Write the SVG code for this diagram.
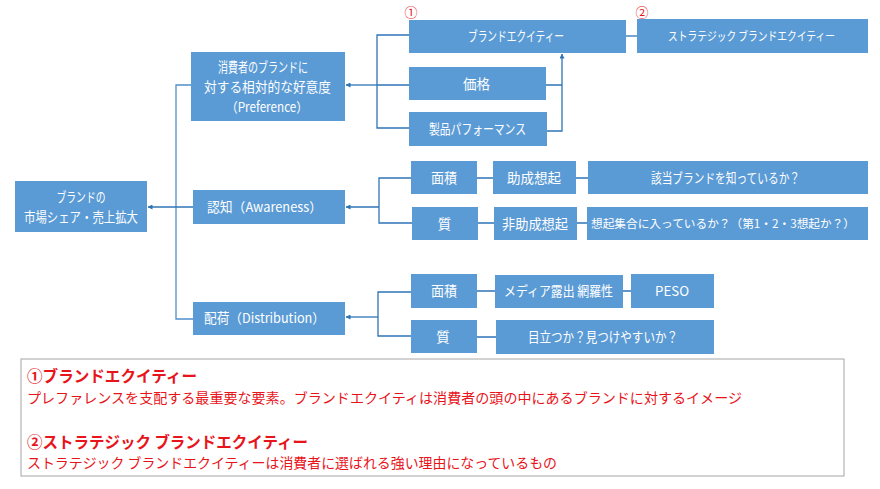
<svg xmlns="http://www.w3.org/2000/svg" width="880" height="489" viewBox="0 0 880 489">
<style>
.b{fill:#5B9BD5}
.t{font-family:"Meiryo UI","Noto Sans CJK JP","Noto Sans",sans-serif;font-size:13.5px;fill:#fff;text-anchor:middle}
.c{fill:none;stroke:#2E75B6;stroke-width:1.3}
.r{font-family:"Noto Sans CJK JP",sans-serif;fill:#E8141B}
</style>
<defs>
<marker id="ah" viewBox="0 0 10 10" refX="9" refY="5" markerWidth="5" markerHeight="5" orient="auto" markerUnits="userSpaceOnUse">
<path d="M0,0 L10,5 L0,10 z" fill="#2E75B6"/>
</marker>
</defs>
<rect width="880" height="489" fill="#fff"/>
<g id="connectors">
<path class="c" d="M191,85 H176 V319 H193" style="stroke:#4F8FCC"/>
<path class="c" d="M193,207 H148" marker-end="url(#ah)"/>
<path class="c" d="M409,35 H377 V128 H409 M409,85 H377"/>
<path class="c" d="M377,85 H346" marker-end="url(#ah)"/>
<path class="c" d="M626,36 H637"/>
<path class="c" d="M546,85 H562 M547,131 H562 V54" marker-end="url(#ah)"/>
<path class="c" d="M411,178 H379 V223 H412"/>
<path class="c" d="M379,207 H346" marker-end="url(#ah)"/>
<path class="c" d="M477,178 H493 M576,178 H588 M478,223 H494 M577,223 H587"/>
<path class="c" d="M411,292 H378 V336 H411"/>
<path class="c" d="M378,317 H346" marker-end="url(#ah)"/>
<path class="c" d="M477,291 H495 M623,291 H631 M477,337 H496"/>
</g>
<g id="root"><rect class="b" x="15" y="181" width="132" height="51"/>
<text class="t" x="81" y="202" textLength="49" lengthAdjust="spacingAndGlyphs">ブランドの</text>
<text class="t" x="81" y="222" textLength="114" lengthAdjust="spacingAndGlyphs">市場シェア・売上拡大</text></g>
<g id="preference"><rect class="b" x="191" y="52" width="154" height="69"/>
<text class="t" x="263" y="71.5" textLength="90" lengthAdjust="spacingAndGlyphs">消費者のブランドに</text>
<text class="t" x="267.5" y="91.5" textLength="127" lengthAdjust="spacingAndGlyphs">対する相対的な好意度</text>
<text class="t" x="267" y="111.5" textLength="82" lengthAdjust="spacingAndGlyphs">（Preference）</text></g>
<g id="awareness"><rect class="b" x="193" y="190" width="152" height="34"/>
<text class="t" x="264.5" y="211.5" textLength="115" lengthAdjust="spacingAndGlyphs">認知（Awareness）</text></g>
<g id="distribution"><rect class="b" x="193" y="302" width="152" height="33"/>
<text class="t" x="264.5" y="323" textLength="121" lengthAdjust="spacingAndGlyphs">配荷（Distribution）</text></g>
<g id="equity"><rect class="b" x="409" y="20" width="217" height="33"/>
<text class="t" x="516" y="41" textLength="96" lengthAdjust="spacingAndGlyphs">ブランドエクイティー</text></g>
<g id="strategic"><rect class="b" x="637" y="19" width="231" height="34"/>
<text class="t" x="751.5" y="40.5" font-size="12" style="font-size:12px" textLength="167" lengthAdjust="spacingAndGlyphs">ストラテジック ブランドエクイティー</text></g>
<g id="price"><rect class="b" x="409" y="67" width="137" height="33"/>
<text class="t" x="476.5" y="88.5" textLength="27" lengthAdjust="spacingAndGlyphs">価格</text></g>
<g id="performance"><rect class="b" x="409" y="112" width="138" height="34"/>
<text class="t" x="477.5" y="134" textLength="97" lengthAdjust="spacingAndGlyphs">製品パフォーマンス</text></g>
<g id="aw-area"><rect class="b" x="411" y="161" width="66" height="33"/>
<text class="t" x="444" y="182.5" textLength="26" lengthAdjust="spacingAndGlyphs">面積</text></g>
<g id="aided"><rect class="b" x="493" y="161" width="83" height="33"/>
<text class="t" x="534" y="182.5" textLength="54" lengthAdjust="spacingAndGlyphs">助成想起</text></g>
<g id="aided-q"><rect class="b" x="588" y="161" width="280" height="33"/>
<text class="t" x="725.5" y="182.5" textLength="149" lengthAdjust="spacingAndGlyphs">該当ブランドを知っているか？</text></g>
<g id="aw-quality"><rect class="b" x="412" y="207" width="66" height="33"/>
<text class="t" x="444.5" y="228.5">質</text></g>
<g id="unaided"><rect class="b" x="494" y="207" width="83" height="33"/>
<text class="t" x="535" y="228.5" textLength="66" lengthAdjust="spacingAndGlyphs">非助成想起</text></g>
<g id="unaided-q"><rect class="b" x="587" y="207" width="281" height="33"/>
<text class="t" x="723" y="228" style="font-size:11.5px" textLength="264" lengthAdjust="spacingAndGlyphs">想起集合に入っているか？（第1・2・3想起か？）</text></g>
<g id="di-area"><rect class="b" x="411" y="274" width="66" height="34"/>
<text class="t" x="444" y="295.5" textLength="26" lengthAdjust="spacingAndGlyphs">面積</text></g>
<g id="media"><rect class="b" x="495" y="275" width="128" height="33"/>
<text class="t" x="558.5" y="296" textLength="109" lengthAdjust="spacingAndGlyphs">メディア露出 網羅性</text></g>
<g id="peso"><rect class="b" x="631" y="274" width="83" height="34"/>
<text class="t" x="672" y="295.5" textLength="34" lengthAdjust="spacingAndGlyphs">PESO</text></g>
<g id="di-quality"><rect class="b" x="411" y="320" width="66" height="33"/>
<text class="t" x="443" y="341.5">質</text></g>
<g id="visible"><rect class="b" x="496" y="320" width="218" height="34"/>
<text class="t" x="603" y="341.5" textLength="150" lengthAdjust="spacingAndGlyphs">目立つか？見つけやすいか？</text></g>
<g id="labels">
<text class="r" x="411" y="17" font-size="13" text-anchor="middle">①</text>
<text class="r" x="642" y="17" font-size="13" text-anchor="middle">②</text>
</g>
<g id="note">
<rect x="21" y="359" width="823" height="117" fill="#fff" stroke="#A6A6A6" stroke-width="1"/>
<text class="r" x="27" y="382" font-size="16" font-weight="bold" textLength="170" lengthAdjust="spacingAndGlyphs">①ブランドエクイティー</text>
<text class="r" x="27" y="403" font-size="14" textLength="715" lengthAdjust="spacingAndGlyphs">プレファレンスを支配する最重要な要素。ブランドエクイティは消費者の頭の中にあるブランドに対するイメージ</text>
<text class="r" x="27" y="448" font-size="16" font-weight="bold" textLength="281" lengthAdjust="spacingAndGlyphs">②ストラテジック ブランドエクイティー</text>
<text class="r" x="27" y="468" font-size="14" textLength="530" lengthAdjust="spacingAndGlyphs">ストラテジック ブランドエクイティーは消費者に選ばれる強い理由になっているもの</text>
</g>
</svg>
